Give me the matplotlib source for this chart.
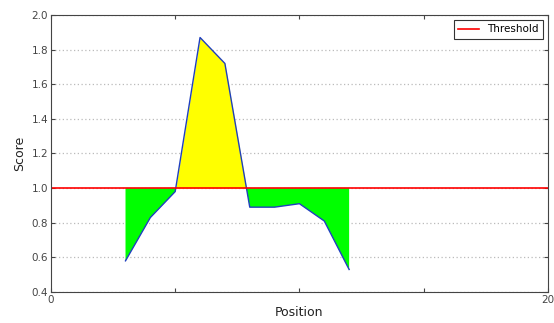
import matplotlib
matplotlib.use("Agg")
import matplotlib.pyplot as plt
import numpy as np

positions = [3, 4, 5, 6, 7, 8, 9, 10, 11, 12]
scores = [0.58, 0.83, 0.98, 1.87, 1.72, 0.89, 0.89, 0.91, 0.81, 0.53]
threshold = 1.0
x_ticks = [0, 5, 10, 15, 20]
x_tick_labels = ["0", "", "", "", "20"]
y_ticks = [0.4, 0.6, 0.8, 1.0, 1.2, 1.4, 1.6, 1.8, 2.0]

x = np.array(positions, dtype=float)
y = np.array(scores)

fig = plt.figure(figsize=(5.54, 3.23), dpi=100)
ax = fig.add_axes([0.092, 0.096, 0.897, 0.8576])

ax.fill_between(x, y, threshold, where=y >= threshold, interpolate=True,
                color="#ffff00", linewidth=0)
ax.fill_between(x, y, threshold, where=y <= threshold, interpolate=True,
                color="#00ff00", linewidth=0)
ax.plot(x, y, color="#1f3fbf", linewidth=1.0)
ax.axhline(threshold, color="red", linewidth=1.2, label="Threshold")

ax.set_xlim(0, 20)
ax.set_ylim(0.4, 2.0)
ax.set_xticks(x_ticks)
ax.set_xticklabels(x_tick_labels)
ax.set_yticks(y_ticks)
ax.set_yticklabels([f"{v:.1f}" for v in y_ticks])
ax.yaxis.grid(True, linestyle=(0, (1, 2)), color="#bbbbbb", linewidth=0.9)
ax.set_axisbelow(True)
ax.tick_params(direction="in", top=True, right=True, labelsize=7.5,
               colors="#444444", length=3, pad=2)
for s in ax.spines.values():
    s.set_color("#444444")
ax.set_xlabel("Position", fontsize=9, color="#222222", labelpad=1)
ax.set_ylabel("Score", fontsize=9, color="#222222")
leg = ax.legend(loc="upper right", fontsize=7.5, frameon=True, fancybox=False,
                edgecolor="black", handlelength=2)
leg.get_frame().set_linewidth(0.8)

fig.savefig("out.png", dpi=100)
